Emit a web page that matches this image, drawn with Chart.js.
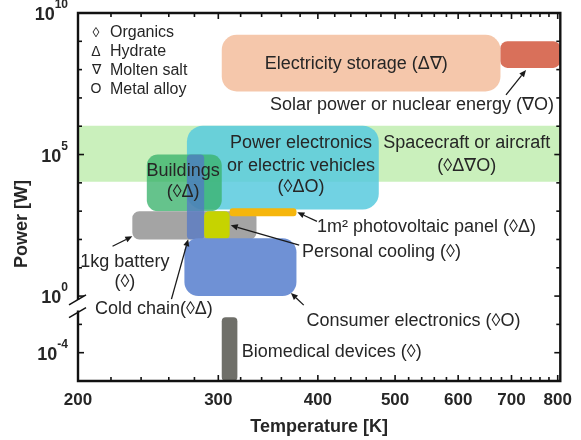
<!DOCTYPE html>
<html>
<head>
<meta charset="utf-8">
<script src="https://cdn.jsdelivr.net/npm/chart.js@4/dist/chart.umd.min.js"></script>
<style>
  html, body { margin: 0; padding: 0; background: #fff; }
  #wrap { width: 581px; height: 440px; }
</style>
</head>
<body>
<div id="wrap"><canvas id="chart" width="581" height="440"></canvas></div>
<script>
// Application windows for thermal storage: temperature range [K] and power range [W]
const applications = [
  'Spacecraft or aircraft',
  'Electricity storage',
  'Solar power or nuclear energy',
  'Power electronics or electric vehicles',
  'Buildings',
  '1kg battery',
  'Cold chain',
  'Personal cooling',
  '1m² photovoltaic panel',
  'Consumer electronics',
  'Biomedical devices'
];
const tempMin  = [200,    303,    678,    274,    244,  234,  274,  288,  310,    272,  303];
const tempMax  = [806,    678,    806,    477,    303,  335,  288,  310,  376,    376,  317];
const powerMin = [1.1e4,  1.7e7,  1.15e8, 1.15e3, 1e3,  1e2,  1e2,  1e2,  6.6e2,  1,    1e-5];
const powerMax = [1.05e6, 1.7e9,  1.0e9,  1.05e6, 1e5,  1e3,  1e5,  1e3,  1.26e3, 1.1e2, 1.8e-3];

// Axis ticks
const tempTicks = [200, 300, 400, 500, 600, 700, 800];
const tempMinorStep = 20;
const powerTickExponents = [10, 5, 0, -4];

// Material classes shown in the key
const materialKey = [['◊', 'Organics'], ['Δ', 'Hydrate'], ['∇', 'Molten salt'], ['O', 'Metal alloy']];

// Box styles, one per application
const boxColors = [
  '#caf0bc', '#f5c7ab', '#d9705a', 'rgba(88,202,222,0.85)', 'rgba(58,178,108,0.78)',
  '#a4a4a4', 'rgba(80,118,200,0.72)', '#c6d300', '#f6b60c', '#6f91d5', '#6f6f69'
];
const boxRadius = [0, 15, 7, 16, 11, 7, 4, 5, 3, 14, 4];

// The power axis skips the decades between 10^-2.3 W and 10^-0.3 W
const BREAK_TOP = -0.3;
const BREAK_SPAN = 2;
function decade(p) {
  const l = Math.log10(p);
  return l >= BREAK_TOP ? l : l + BREAK_SPAN;
}

// Annotation text, anchored in (temperature, axis decade)
const notes = [
  { text: 'Electricity storage (Δ∇)', t: 447, d: 8.2, align: 'center' },
  { text: 'Solar power or nuclear energy (∇O)', t: 525, d: 6.76, align: 'center' },
  { text: 'Spacecraft or aircraft', t: 615, d: 5.42, align: 'center' },
  { text: '(◊Δ∇O)', t: 615, d: 4.58, align: 'center' },
  { text: 'Power electronics', t: 381, d: 5.42, align: 'center' },
  { text: 'or electric vehicles', t: 381, d: 4.61, align: 'center' },
  { text: '(◊ΔO)', t: 381, d: 3.84, align: 'center' },
  { text: 'Buildings', t: 271, d: 4.40, align: 'center' },
  { text: '(◊Δ)', t: 271, d: 3.66, align: 'center' },
  { text: '1m² photovoltaic panel (◊Δ)', t: 399, d: 2.43, align: 'left' },
  { text: 'Personal cooling (◊)', t: 382, d: 1.55, align: 'left' },
  { text: '1kg battery', t: 229, d: 1.20, align: 'center' },
  { text: '(◊)', t: 229, d: 0.49, align: 'center' },
  { text: 'Cold chain(◊Δ)', t: 210, d: -0.45, align: 'left' },
  { text: 'Consumer electronics (◊O)', t: 387, d: -0.88, align: 'left' },
  { text: 'Biomedical devices (◊)', t: 321, d: -1.97, align: 'left' }
];

// Leader arrows: from (t1, d1) to arrow head at (t2, d2)
const arrows = [
  [689, 7.11, 730, 7.99],
  [399, 2.64, 377, 2.96],
  [379, 1.80, 311, 2.50],
  [221, 1.76, 234, 2.11],
  [262, -0.11, 275, 2.01],
  [384, -0.32, 370, 0.11]
];

const FONT = '"Liberation Sans", Arial, Helvetica, sans-serif';
const INK = '#262626';

function roundRect(ctx, x, y, w, h, r) {
  r = Math.max(0, Math.min(r, w / 2, h / 2));
  ctx.beginPath();
  ctx.moveTo(x + r, y);
  ctx.lineTo(x + w - r, y);
  ctx.arcTo(x + w, y, x + w, y + r, r);
  ctx.lineTo(x + w, y + h - r);
  ctx.arcTo(x + w, y + h, x + w - r, y + h, r);
  ctx.lineTo(x + r, y + h);
  ctx.arcTo(x, y + h, x, y + h - r, r);
  ctx.lineTo(x, y + r);
  ctx.arcTo(x, y, x + r, y, r);
  ctx.closePath();
}

const windowsPlugin = {
  id: 'applicationWindows',
  afterDraw(chart) {
    const ctx = chart.ctx;
    const area = chart.chartArea;
    const xs = chart.scales.x, ys = chart.scales.y;
    const px = t => xs.getPixelForValue(t);
    const py = d => ys.getPixelForValue(d);

    // application boxes
    ctx.save();
    ctx.beginPath();
    ctx.rect(area.left, area.top, area.right - area.left, area.bottom - area.top);
    ctx.clip();
    applications.forEach((name, i) => {
      const x1 = Math.max(px(tempMin[i]), area.left);
      const x2 = Math.min(px(tempMax[i]), area.right);
      const y1 = py(decade(powerMax[i]));
      const y2 = py(decade(powerMin[i]));
      ctx.fillStyle = boxColors[i];
      roundRect(ctx, x1, y1, x2 - x1, y2 - y1, boxRadius[i]);
      ctx.fill();
    });
    ctx.restore();

    // frame with a break on the power axis
    ctx.save();
    ctx.strokeStyle = '#111';
    ctx.lineWidth = 2.4;
    ctx.lineCap = 'square';
    const gapTop = py(-0.1), gapBottom = py(-0.55);
    ctx.beginPath();
    ctx.moveTo(area.left, gapTop);
    ctx.lineTo(area.left, area.top);
    ctx.lineTo(area.right, area.top);
    ctx.lineTo(area.right, area.bottom);
    ctx.lineTo(area.left, area.bottom);
    ctx.lineTo(area.left, gapBottom);
    ctx.stroke();
    ctx.lineWidth = 1.6;
    ctx.lineCap = 'butt';
    [gapTop + 1, gapBottom + 1].forEach(y => {
      ctx.beginPath();
      ctx.moveTo(area.left - 9, y + 5);
      ctx.lineTo(area.left + 8, y - 5);
      ctx.stroke();
    });

    // inward ticks
    ctx.lineWidth = 1.6;
    const tick = (x1, y1, x2, y2) => { ctx.beginPath(); ctx.moveTo(x1, y1); ctx.lineTo(x2, y2); ctx.stroke(); };
    for (let t = 200 + tempMinorStep; t < 806; t += tempMinorStep) {
      const major = tempTicks.includes(t);
      const len = major ? 6 : 4;
      const x = px(t);
      tick(x, area.bottom, x, area.bottom - len);
      tick(x, area.top, x, area.top + len);
    }
    for (let e = -4; e <= 9; e++) {
      if (e > -2.3 && e < BREAK_TOP) continue;
      const major = powerTickExponents.includes(e);
      const len = major ? 6 : 4;
      const y = py(decade(Math.pow(10, e)));
      tick(area.left, y, area.left + len, y);
      tick(area.right, y, area.right - len, y);
    }
    ctx.restore();

    // power tick labels: 10 with a superscript exponent
    ctx.save();
    ctx.fillStyle = INK;
    ctx.textBaseline = 'middle';
    powerTickExponents.forEach(e => {
      const y = py(decade(Math.pow(10, e)));
      const right = area.left - 10;
      ctx.font = 'bold 12px ' + FONT;
      const exp = String(e);
      const ew = ctx.measureText(exp).width;
      ctx.textAlign = 'left';
      ctx.fillText(exp, right - ew, y - 8);
      ctx.font = 'bold 18px ' + FONT;
      ctx.textAlign = 'right';
      ctx.fillText('10', right - ew, y + 2);
    });
    // power axis title
    ctx.translate(22, 224);
    ctx.rotate(-Math.PI / 2);
    ctx.textAlign = 'center';
    ctx.font = 'bold 18px ' + FONT;
    ctx.fillText('Power [W]', 0, 0);
    ctx.restore();

    // key of material classes
    ctx.save();
    ctx.fillStyle = INK;
    ctx.textBaseline = 'middle';
    materialKey.forEach(([sym, name], i) => {
      const y = area.top + 20 + i * 18.7;
      ctx.textAlign = 'center';
      ctx.font = '14px ' + FONT;
      ctx.fillText(sym, area.left + 18, y);
      ctx.textAlign = 'left';
      ctx.font = '16px ' + FONT;
      ctx.fillText(name, area.left + 32, y);
    });

    // annotations
    ctx.font = '18px ' + FONT;
    notes.forEach(n => {
      ctx.textAlign = n.align;
      ctx.fillText(n.text, px(n.t), py(n.d));
    });

    // leader arrows
    ctx.strokeStyle = '#1a1a1a';
    ctx.fillStyle = '#1a1a1a';
    ctx.lineWidth = 1.3;
    arrows.forEach(([t1, d1, t2, d2]) => {
      const x1 = px(t1), y1 = py(d1), x2 = px(t2), y2 = py(d2);
      const a = Math.atan2(y2 - y1, x2 - x1);
      const L = 7, W = 3;
      const bx = x2 - L * Math.cos(a), by = y2 - L * Math.sin(a);
      ctx.beginPath();
      ctx.moveTo(x1, y1);
      ctx.lineTo(bx, by);
      ctx.stroke();
      ctx.beginPath();
      ctx.moveTo(x2, y2);
      ctx.lineTo(bx + W * Math.sin(a), by - W * Math.cos(a));
      ctx.lineTo(bx - W * Math.sin(a), by + W * Math.cos(a));
      ctx.closePath();
      ctx.fill();
    });
    ctx.restore();
  }
};

new Chart(document.getElementById('chart'), {
  type: 'scatter',
  data: { datasets: [{ data: [] }] },
  options: {
    responsive: false,
    animation: false,
    devicePixelRatio: 1,
    layout: { padding: { top: 13, right: 19, left: 0, bottom: 0 } },
    plugins: { legend: { display: false }, tooltip: { enabled: false } },
    scales: {
      x: {
        type: 'logarithmic',
        min: 200,
        max: 806,
        afterBuildTicks: s => { s.ticks = tempTicks.map(v => ({ value: v })); },
        afterFit: s => { s.height = 59; },
        grid: { display: false, drawTicks: false },
        border: { display: false },
        ticks: {
          autoSkip: false,
          maxRotation: 0,
          padding: 9,
          color: INK,
          font: { family: FONT, size: 17, weight: 'bold' },
          callback: v => String(v)
        },
        title: {
          display: true,
          text: 'Temperature [K]',
          color: INK,
          font: { family: FONT, size: 18, weight: 'bold' },
          padding: { top: 0, bottom: 2 }
        }
      },
      y: {
        type: 'linear',
        min: -3,
        max: 10,
        afterFit: s => { s.width = 78; },
        grid: { display: false, drawTicks: false },
        border: { display: false },
        ticks: { display: false }
      }
    }
  },
  plugins: [windowsPlugin]
});
</script>
</body>
</html>
